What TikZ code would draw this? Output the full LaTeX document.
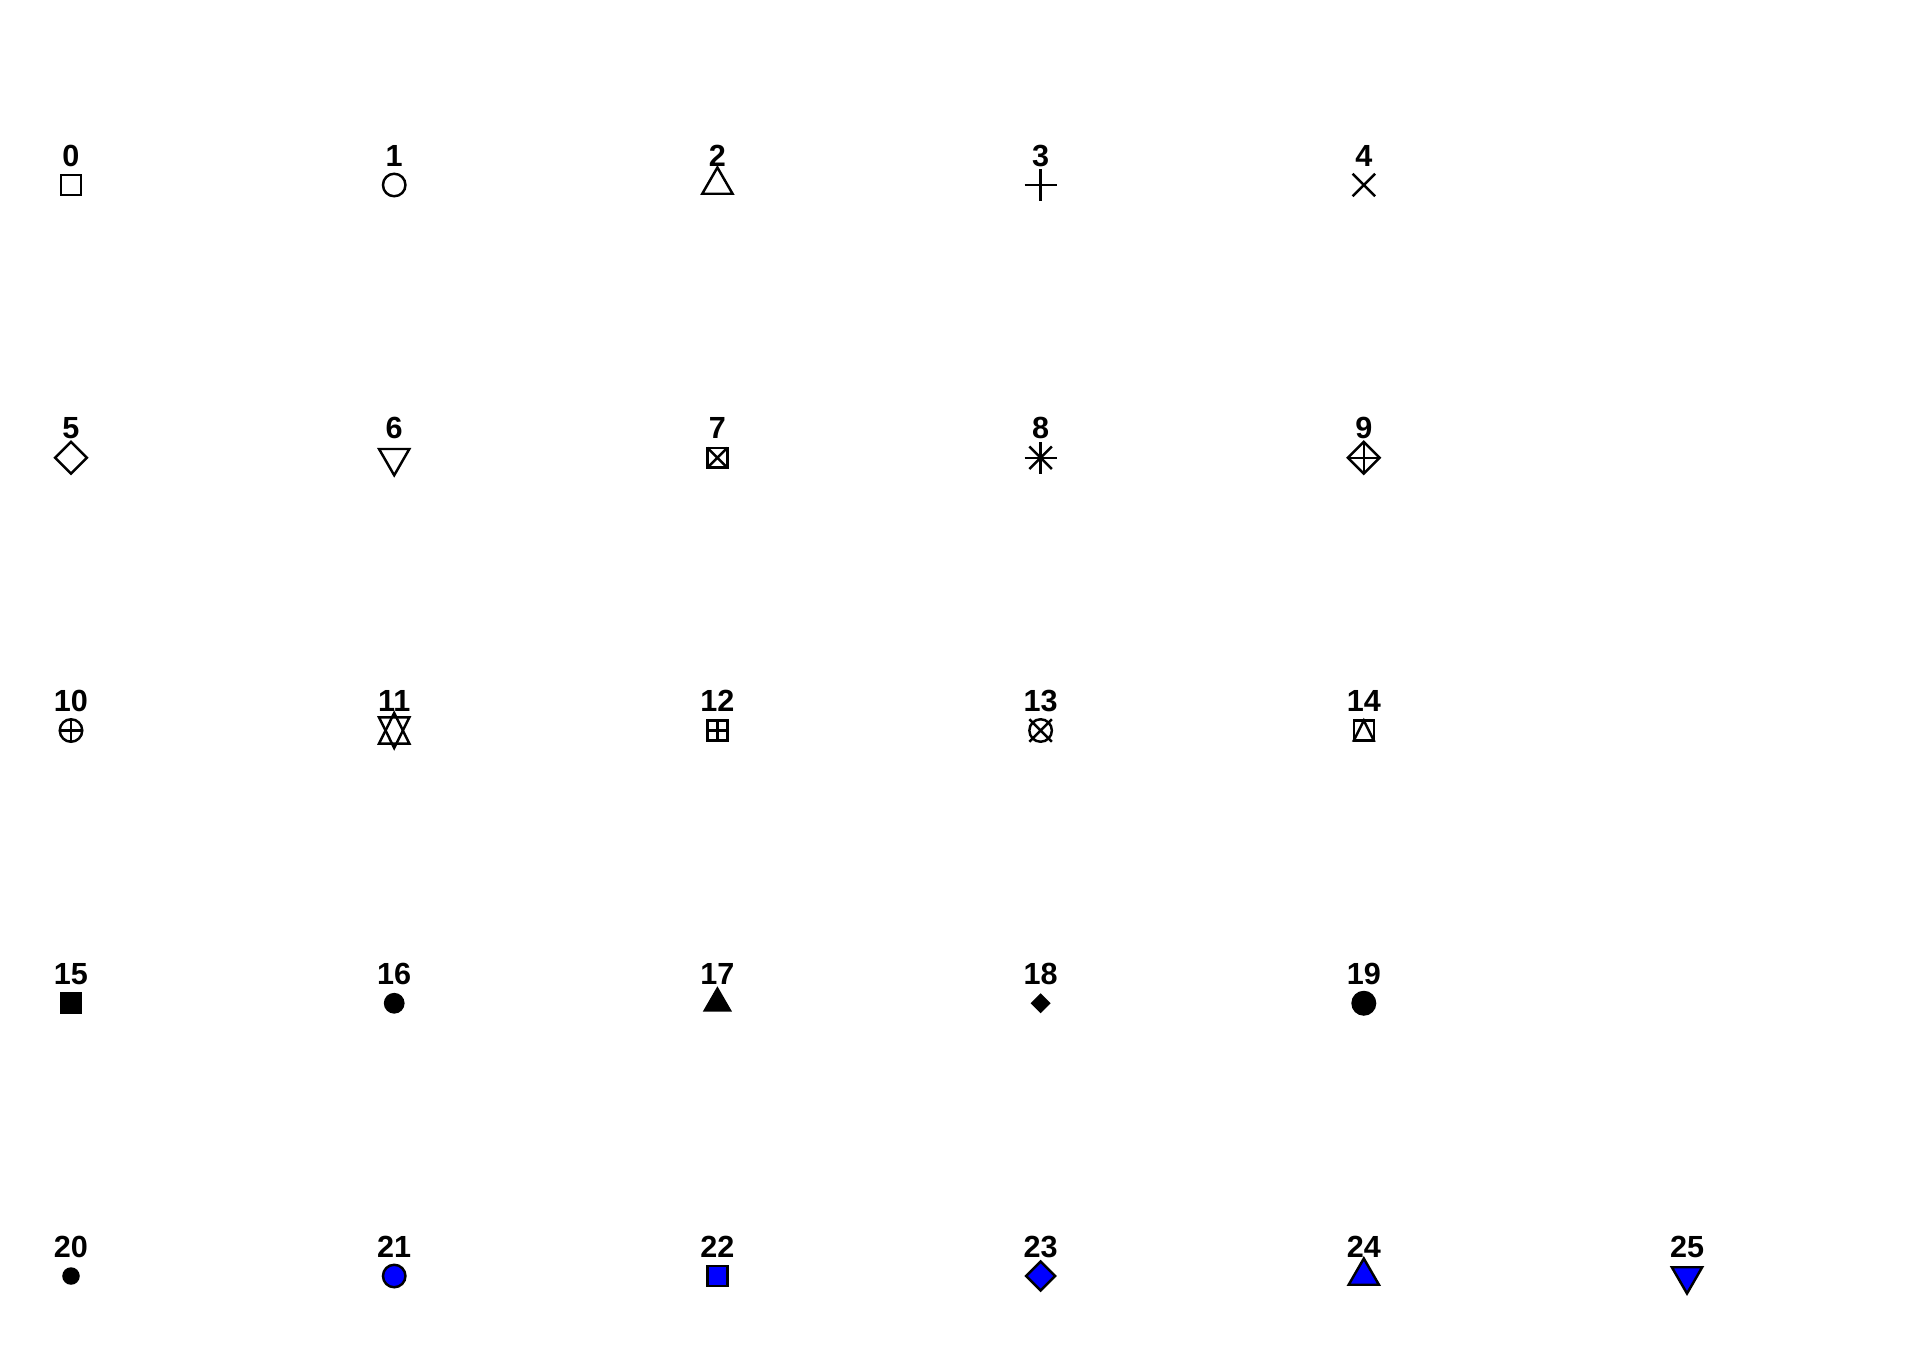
\documentclass[tikz,border=0pt]{standalone}
\usepackage{fontspec}
\setmainfont{Liberation Sans}
\usetikzlibrary{calc}
\definecolor{symblue}{RGB}{0,0,255}
\tikzset{
    symline/.style={draw=black, line width=0.7pt, line join=miter},
    symsolid/.style={fill=black, draw=none},
    symblue/.style={draw=black, fill=symblue, line width=0.7pt},
    pchlabel/.style={
        font=\bfseries\fontsize{8.7}{10}\selectfont,
        anchor=base,
        inner sep=0pt
    }
}
% symbol sizes (cm)
\newcommand{\sqh}{0.0997}
\newcommand{\crad}{0.1125}
\newcommand{\upTri}{(0,0.175) -- (0.1515,-0.0875) -- (-0.1515,-0.0875) -- cycle}
\newcommand{\dnTri}{(0,-0.175) -- (0.1515,0.0875) -- (-0.1515,0.0875) -- cycle}
\newcommand{\dmd}{(0.159,0) -- (0,0.159) -- (-0.159,0) -- (0,-0.159) -- cycle}

\begin{document}
\begin{tikzpicture}
    \useasboundingbox (0,0) rectangle (19.2,13.44);

    % Symbol positions and labels
    \foreach \n in {0,...,25} {
        \ifnum\n=25
            \def\col{5}\def\row{4}
        \else
            \pgfmathtruncatemacro{\col}{mod(\n,5)}
            \pgfmathtruncatemacro{\row}{int(\n/5)}
        \fi
        \coordinate (p\n) at ({0.71+3.232*\col},{13.44-1.85-2.7275*\row});
        \node[pchlabel] (lab\n) at ($(p\n)+(0,0.19)$) {\n};
    }

    % Row 1
    \begin{scope}[shift={(p0)}]
        \draw[symline] (-\sqh,-\sqh) rectangle (\sqh,\sqh);
    \end{scope}
    \begin{scope}[shift={(p1)}]
        \draw[symline] (0,0) circle (\crad);
    \end{scope}
    \begin{scope}[shift={(p2)}]
        \draw[symline] \upTri;
    \end{scope}
    \begin{scope}[shift={(p3)}]
        \draw[symline] (-0.159,0) -- (0.159,0) (0,-0.159) -- (0,0.159);
    \end{scope}
    \begin{scope}[shift={(p4)}]
        \draw[symline] (-\crad,-\crad) -- (\crad,\crad) (-\crad,\crad) -- (\crad,-\crad);
    \end{scope}

    % Row 2
    \begin{scope}[shift={(p5)}]
        \draw[symline] \dmd;
    \end{scope}
    \begin{scope}[shift={(p6)}]
        \draw[symline] \dnTri;
    \end{scope}
    \begin{scope}[shift={(p7)}]
        \draw[symline] (-\sqh,-\sqh) rectangle (\sqh,\sqh);
        \draw[symline] (-\sqh,-\sqh) -- (\sqh,\sqh) (-\sqh,\sqh) -- (\sqh,-\sqh);
    \end{scope}
    \begin{scope}[shift={(p8)}]
        \draw[symline] (-0.159,0) -- (0.159,0) (0,-0.159) -- (0,0.159);
        \draw[symline] (-\crad,-\crad) -- (\crad,\crad) (-\crad,\crad) -- (\crad,-\crad);
    \end{scope}
    \begin{scope}[shift={(p9)}]
        \draw[symline] \dmd;
        \draw[symline] (-0.159,0) -- (0.159,0) (0,-0.159) -- (0,0.159);
    \end{scope}

    % Row 3
    \begin{scope}[shift={(p10)}]
        \draw[symline] (0,0) circle (\crad);
        \draw[symline] (-\crad,0) -- (\crad,0) (0,-\crad) -- (0,\crad);
    \end{scope}
    \begin{scope}[shift={(p11)}]
        \draw[symline] (0,-0.175) -- (0.1515,0.131) -- (-0.1515,0.131) -- cycle;
        \draw[symline] (0,0.175) -- (0.1515,-0.131) -- (-0.1515,-0.131) -- cycle;
    \end{scope}
    \begin{scope}[shift={(p12)}]
        \draw[symline] (-\sqh,-\sqh) rectangle (\sqh,\sqh);
        \draw[symline] (-\sqh,0) -- (\sqh,0) (0,-\sqh) -- (0,\sqh);
    \end{scope}
    \begin{scope}[shift={(p13)}]
        \draw[symline] (0,0) circle (\crad);
        \draw[symline] (-\crad,-\crad) -- (\crad,\crad) (-\crad,\crad) -- (\crad,-\crad);
    \end{scope}
    \begin{scope}[shift={(p14)}]
        \draw[symline] (-\sqh,-\sqh) rectangle (\sqh,\sqh);
        \draw[symline] (0,\sqh) -- (\sqh,-\sqh) -- (-\sqh,-\sqh) -- cycle;
    \end{scope}

    % Row 4 (solid)
    \begin{scope}[shift={(p15)}]
        \fill[symsolid] (-0.108,-0.108) rectangle (0.108,0.108);
    \end{scope}
    \begin{scope}[shift={(p16)}]
        \fill[symsolid] (0,0) circle (0.104);
    \end{scope}
    \begin{scope}[shift={(p17)}]
        \fill[symsolid] (0,0.17) -- (0.146,-0.083) -- (-0.146,-0.083) -- cycle;
    \end{scope}
    \begin{scope}[shift={(p18)}]
        \fill[symsolid] (0.1,0) -- (0,0.1) -- (-0.1,0) -- (0,-0.1) -- cycle;
    \end{scope}
    \begin{scope}[shift={(p19)}]
        \filldraw[symline, fill=black] (0,0) circle (\crad);
    \end{scope}

    % Row 5 (filled)
    \begin{scope}[shift={(p20)}]
        \filldraw[symline, fill=black] (0,0) circle (0.075);
    \end{scope}
    \begin{scope}[shift={(p21)}]
        \filldraw[symblue] (0,0) circle (\crad);
    \end{scope}
    \begin{scope}[shift={(p22)}]
        \filldraw[symblue] (-\sqh,-\sqh) rectangle (\sqh,\sqh);
    \end{scope}
    \begin{scope}[shift={(p23)}]
        \filldraw[symblue] (0.145,0) -- (0,0.145) -- (-0.145,0) -- (0,-0.145) -- cycle;
    \end{scope}
    \begin{scope}[shift={(p24)}]
        \filldraw[symblue] \upTri;
    \end{scope}
    \begin{scope}[shift={(p25)}]
        \filldraw[symblue] \dnTri;
    \end{scope}
\end{tikzpicture}
\end{document}
